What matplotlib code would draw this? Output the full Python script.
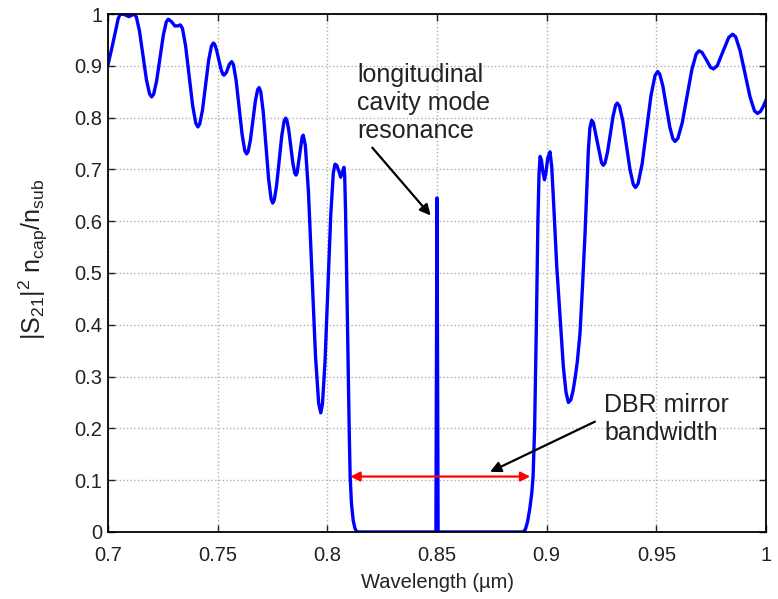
import numpy as np
import matplotlib
matplotlib.use("Agg")
import matplotlib.pyplot as plt

plt.rcParams['font.family'] = ['Liberation Sans', 'DejaVu Sans']
plt.rcParams['mathtext.fontset'] = 'custom'
plt.rcParams['mathtext.rm'] = 'Liberation Sans'
plt.rcParams['mathtext.default'] = 'regular'

# transmission, short wavelength side of the stop band
wl_left = [0.7000, 0.7018, 0.7035, 0.7046, 0.7055, 0.7075, 0.7095, 0.7110, 0.7120,
           0.71295, 0.71437, 0.71595, 0.71753, 0.71895, 0.7199,
           0.72081, 0.72218, 0.7237, 0.72522, 0.72659, 0.7275,
           0.7290, 0.7305, 0.7318, 0.7330,
           0.73396, 0.7354, 0.7370, 0.7386, 0.74004, 0.7410,
           0.74184, 0.7431, 0.7445, 0.7459, 0.74716, 0.7480,
           0.74859, 0.74947, 0.75045, 0.75143, 0.75231, 0.7529,
           0.75395, 0.75465, 0.75535, 0.7564,
           0.75722, 0.75844, 0.7598, 0.76116, 0.76238, 0.7632,
           0.76388, 0.76491, 0.76605, 0.76719, 0.76822, 0.7689,
           0.76964, 0.77076, 0.7720, 0.77324, 0.77436, 0.7751,
           0.77581, 0.77687, 0.77805, 0.77923, 0.78029, 0.7810,
           0.78156, 0.78241, 0.78335, 0.78429, 0.78514, 0.7857,
           0.7862, 0.78735, 0.7885, 0.7890,
           0.78996, 0.7914, 0.7930, 0.7946, 0.79604, 0.7970,
           0.79778, 0.79895, 0.80025, 0.80155, 0.80272, 0.8035,
           0.8043, 0.8052, 0.8061, 0.8069, 0.8076, 0.8079, 0.8083,
           0.8088, 0.8094, 0.8100, 0.8104, 0.8110, 0.8118, 0.8126, 0.8134]
s21_left = [0.902, 0.935, 0.968, 0.990, 1.000, 0.999, 0.995, 0.998, 1.000,
            0.994, 0.967, 0.920, 0.873, 0.846, 0.840,
            0.845, 0.871, 0.915, 0.959, 0.985, 0.990,
            0.985, 0.977, 0.977, 0.979,
            0.972, 0.938, 0.880, 0.823, 0.789, 0.782,
            0.788, 0.815, 0.863, 0.911, 0.938, 0.944,
            0.942, 0.931, 0.913, 0.895, 0.884, 0.882,
            0.887, 0.895, 0.903, 0.908,
            0.902, 0.871, 0.819, 0.767, 0.736, 0.730,
            0.734, 0.756, 0.794, 0.832, 0.854, 0.858,
            0.850, 0.812, 0.746, 0.681, 0.643, 0.635,
            0.641, 0.669, 0.717, 0.765, 0.793, 0.799,
            0.795, 0.776, 0.744, 0.712, 0.693, 0.689,
            0.693, 0.727, 0.762, 0.766,
            0.747, 0.656, 0.498, 0.340, 0.249, 0.230,
            0.247, 0.329, 0.470, 0.611, 0.693, 0.710,
            0.708, 0.697, 0.685, 0.695, 0.704, 0.690, 0.620,
            0.500, 0.340, 0.190, 0.107, 0.055, 0.022, 0.007, 0.000]

# inside the stop band: the cavity mode
wl_mid = [0.8495, 0.8500, 0.8505, 0.8893]
s21_mid = [0.000, 0.645, 0.000, 0.000]

# long wavelength side of the stop band
wl_right = [0.8903, 0.8913, 0.8923, 0.8932, 0.8938, 0.8945, 0.8953, 0.8960, 0.8965,
            0.8970, 0.8976, 0.8983, 0.8990, 0.8997, 0.9005, 0.9015, 0.9023,
            0.9031, 0.9046, 0.9061, 0.9076, 0.9088, 0.9099, 0.9110, 0.9120,
            0.9130, 0.9140, 0.9152, 0.9164, 0.9175, 0.9183, 0.9190, 0.9197, 0.9205,
            0.92130, 0.92315, 0.92501, 0.9258,
            0.92657, 0.92772, 0.9290, 0.93028, 0.93143, 0.9322,
            0.9332, 0.93469, 0.93635, 0.93801, 0.9395, 0.9405,
            0.94171, 0.94353, 0.94555, 0.94757, 0.94939, 0.9506,
            0.95155, 0.95297, 0.95455, 0.95613, 0.95755, 0.9585,
            0.95982, 0.9618, 0.9640, 0.9662, 0.96818, 0.9695,
            0.9708, 0.97275, 0.9747, 0.9760,
            0.97776, 0.9804, 0.98304, 0.9848,
            0.98616, 0.98819, 0.99045, 0.99271, 0.99474, 0.9961,
            0.9975, 0.9988, 1.0000]
s21_right = [0.005, 0.020, 0.045, 0.075, 0.107, 0.200, 0.400, 0.600, 0.690,
             0.725, 0.718, 0.695, 0.680, 0.695, 0.722, 0.734, 0.705,
             0.641, 0.512, 0.416, 0.319, 0.270, 0.250, 0.255, 0.272,
             0.298, 0.330, 0.384, 0.480, 0.577, 0.660, 0.737, 0.780, 0.795,
             0.790, 0.752, 0.713, 0.708,
             0.712, 0.733, 0.768, 0.803, 0.824, 0.828,
             0.822, 0.794, 0.747, 0.699, 0.671, 0.665,
             0.673, 0.711, 0.777, 0.843, 0.881, 0.889,
             0.884, 0.861, 0.822, 0.782, 0.759, 0.754,
             0.760, 0.790, 0.842, 0.893, 0.923, 0.929,
             0.926, 0.912, 0.897, 0.894,
             0.900, 0.928, 0.955, 0.961,
             0.956, 0.929, 0.885, 0.840, 0.813, 0.808,
             0.812, 0.822, 0.834]

wavelength = np.array(wl_left + wl_mid + wl_right)
s21 = np.array(s21_left + s21_mid + s21_right)

xticks = [0.7, 0.75, 0.8, 0.85, 0.9, 0.95, 1.0]
xticklabels = ['0.7', '0.75', '0.8', '0.85', '0.9', '0.95', '1']
yticks = [0, 0.1, 0.2, 0.3, 0.4, 0.5, 0.6, 0.7, 0.8, 0.9, 1.0]
yticklabels = ['0', '0.1', '0.2', '0.3', '0.4', '0.5', '0.6', '0.7', '0.8', '0.9', '1']

fig = plt.figure(figsize=(7.78, 5.99), dpi=100)
ax = fig.add_axes([0.1388, 0.1119, 0.8458, 0.8647])

ax.plot(wavelength, s21, color='#0000ff', lw=2.4, solid_joinstyle='round')

ax.set_xlim(0.7, 1.0)
ax.set_ylim(0, 1)
ax.set_xticks(xticks)
ax.set_xticklabels(xticklabels)
ax.set_yticks(yticks)
ax.set_yticklabels(yticklabels)
ax.tick_params(direction='in', top=True, right=True, length=5, width=1,
               labelsize=14.5, colors='#222222')
ax.tick_params(axis='x', pad=10)
ax.tick_params(axis='y', pad=4)
ax.grid(True, linestyle=':', color='#b0b0b0', lw=1)
for sp in ax.spines.values():
    sp.set_linewidth(1.3)

ax.set_xlabel('Wavelength (\u00b5m)', fontsize=14.5, color='#222222', labelpad=6)
ax.set_ylabel('|S$_{21}$|$^2$ n$_{cap}$/n$_{sub}$', fontsize=18, color='#222222')
ax.yaxis.set_label_coords(-0.088, 0.527)

# bandwidth arrow
ax.annotate('', xy=(0.8105, 0.107), xytext=(0.8925, 0.107),
            arrowprops=dict(arrowstyle='<|-|>', color='red', lw=1.6, mutation_scale=14,
                            shrinkA=0, shrinkB=0))

ax.annotate('', xy=(0.8471, 0.611), xytext=(0.8205, 0.742),
            arrowprops=dict(arrowstyle='-|>', color='black', lw=1.6, mutation_scale=16,
                            shrinkA=0, shrinkB=0))
ax.text(0.8135, 0.906, 'longitudinal\ncavity mode\nresonance', fontsize=18,
        ha='left', va='top', color='#222222', linespacing=1.22)

ax.annotate('', xy=(0.8742, 0.116), xytext=(0.922, 0.213),
            arrowprops=dict(arrowstyle='-|>', color='black', lw=1.6, mutation_scale=16,
                            shrinkA=0, shrinkB=0))
ax.text(0.9262, 0.269, 'DBR mirror\nbandwidth', fontsize=18,
        ha='left', va='top', color='#222222', linespacing=1.22)

fig.savefig('out.png', dpi=100)
